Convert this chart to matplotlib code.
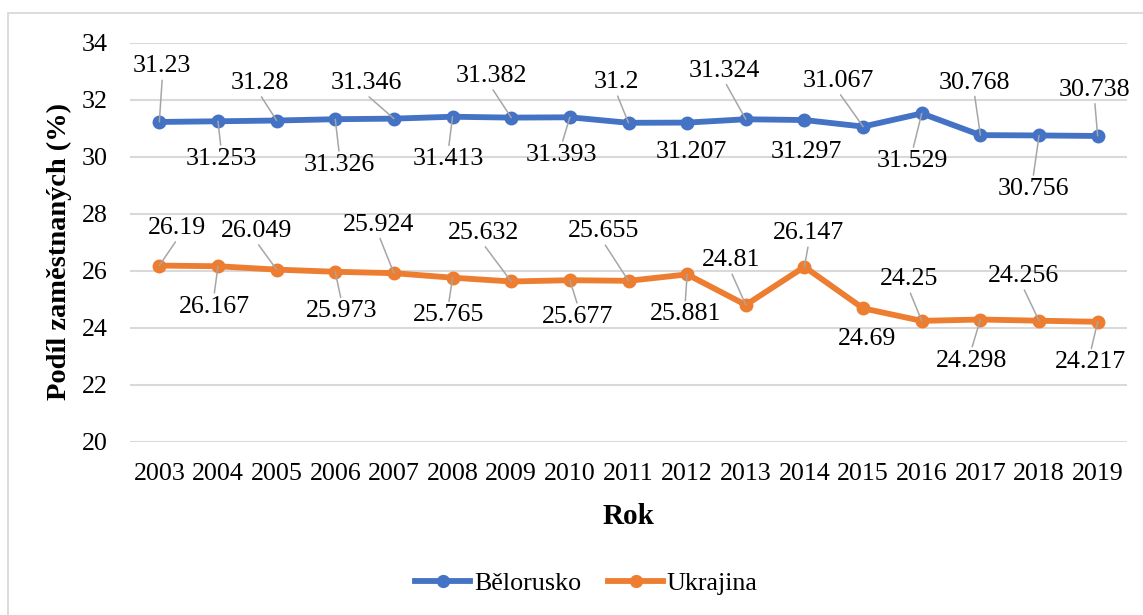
import numpy as np
import matplotlib
matplotlib.use('Agg')
import matplotlib.pyplot as plt
from matplotlib.lines import Line2D
from matplotlib.patches import Rectangle

plt.rcParams['font.family'] = ['Liberation Serif', 'DejaVu Serif']

# data
years = ['2003', '2004', '2005', '2006', '2007', '2008', '2009', '2010', '2011',
         '2012', '2013', '2014', '2015', '2016', '2017', '2018', '2019']
belarus = [31.23, 31.253, 31.28, 31.326, 31.346, 31.413, 31.382, 31.393, 31.2,
           31.207, 31.324, 31.297, 31.067, 31.529, 30.768, 30.756, 30.738]
ukraine = [26.19, 26.167, 26.049, 25.973, 25.924, 25.765, 25.632, 25.677, 25.655,
           25.881, 24.81, 26.147, 24.69, 24.25, 24.298, 24.256, 24.217]
series_names = ['Bělorusko', 'Ukrajina']

# label placement (pixel offsets from the point, y down positive) - layout only
bel_dx = [3, 3, -17, 4, -28, -4, -20, -8, -12, 4, -21, 2, -24.5, -9, -6, -6, -3]
bel_dy = [-58, 35, -40, 43, -38, 40, -44, 35, -43, 27, -51, 29, -48, 45, -55, 51, -48.5]
bel_leader = [1, 1, 1, 1, 1, 1, 1, 1, 1, 0, 1, 0, 1, 1, 1, 1, 1]
ukr_dx = [18, -4, -20, 6, -15, -4, -28, 8, -25, -2, -15, 4, 4, -12.5, -9, -16, -7]
ukr_dy = [-40, 38, -41, 37, -51, 35, -51, 34, -52, 37.5, -47, -36, 28, -44, 38.5, -47, 38]
ukr_leader = [1, 1, 1, 1, 1, 1, 1, 1, 1, 1, 1, 1, 0, 1, 1, 1, 1]

BLUE = '#4472C4'
ORANGE = '#ED7D31'
GRID = '#D9D9D9'
LEADER = '#A6A6A6'
FS = 18.7

W, H = 1143, 615
fig = plt.figure(figsize=(W / 100, H / 100), dpi=100)
ax = fig.add_axes([130 / W, 1 - 442 / H, 997 / W, 399 / H])

# outer chart frame (cut off on right/bottom like the original)
fig.add_artist(Rectangle((8 / W, -0.2), 1.5, (1 - 13 / H) + 0.2, fill=False,
                         ec=GRID, lw=1.3, transform=fig.transFigure))

x = np.arange(len(years))


def draw_series(vals, color, dxs, dys, leaders):
    ax.plot(x, vals, color=color, lw=4.2, marker='o', ms=8.5, mew=1.5,
            mec=color, mfc=color, zorder=2, solid_capstyle='round')
    for xi, v, dx, dy, ld in zip(x, vals, dxs, dys, leaders):
        kw = {}
        if ld:
            kw['arrowprops'] = dict(arrowstyle='-', color=LEADER, lw=1.1,
                                    shrinkA=0, shrinkB=0,
                                    relpos=(0.5, 0.0) if dy < 0 else (0.5, 1.0))
        ax.annotate(f'{v:g}', xy=(xi, v), xytext=(dx, -dy),
                    textcoords='offset pixels', ha='center',
                    va='center_baseline', fontsize=FS, color='black',
                    zorder=4, **kw)


draw_series(belarus, BLUE, bel_dx, bel_dy, bel_leader)
draw_series(ukraine, ORANGE, ukr_dx, ukr_dy, ukr_leader)

ax.set_xlim(-0.5, len(years) - 0.5)
ax.set_ylim(20, 34)
ax.set_yticks(np.arange(20, 35, 2))
ax.set_xticks(x)
ax.set_xticklabels(years)
ax.grid(axis='y', color=GRID, lw=1.5)
ax.set_axisbelow(True)
for s in ax.spines.values():
    s.set_visible(False)
ax.tick_params(axis='y', length=0, pad=16, labelsize=FS)
ax.tick_params(axis='x', length=0, pad=15, labelsize=FS)

ax.set_ylabel('Podíl zaměstnaných (%)', fontsize=20.5, fontweight='bold', va='center')
ax.yaxis.set_label_coords((59 - 130) / 997, (442 - 252) / 399)
ax.set_xlabel('Rok', fontsize=21, fontweight='bold', va='center')
ax.xaxis.set_label_coords(0.5, -(516 - 442) / 399)

handles = [Line2D([], [], color=BLUE, lw=4.2, marker='o', ms=8.5, mfc=BLUE, mec=BLUE),
           Line2D([], [], color=ORANGE, lw=4.2, marker='o', ms=8.5, mfc=ORANGE, mec=ORANGE)]
fig.legend(handles, series_names, loc='center', bbox_to_anchor=(586.5 / W, 1 - 583 / H),
           ncol=2, frameon=False, fontsize=FS, handlelength=2.1, handletextpad=0.15,
           columnspacing=1.05, borderpad=0, borderaxespad=0)

fig.savefig('out.png', dpi=100)
